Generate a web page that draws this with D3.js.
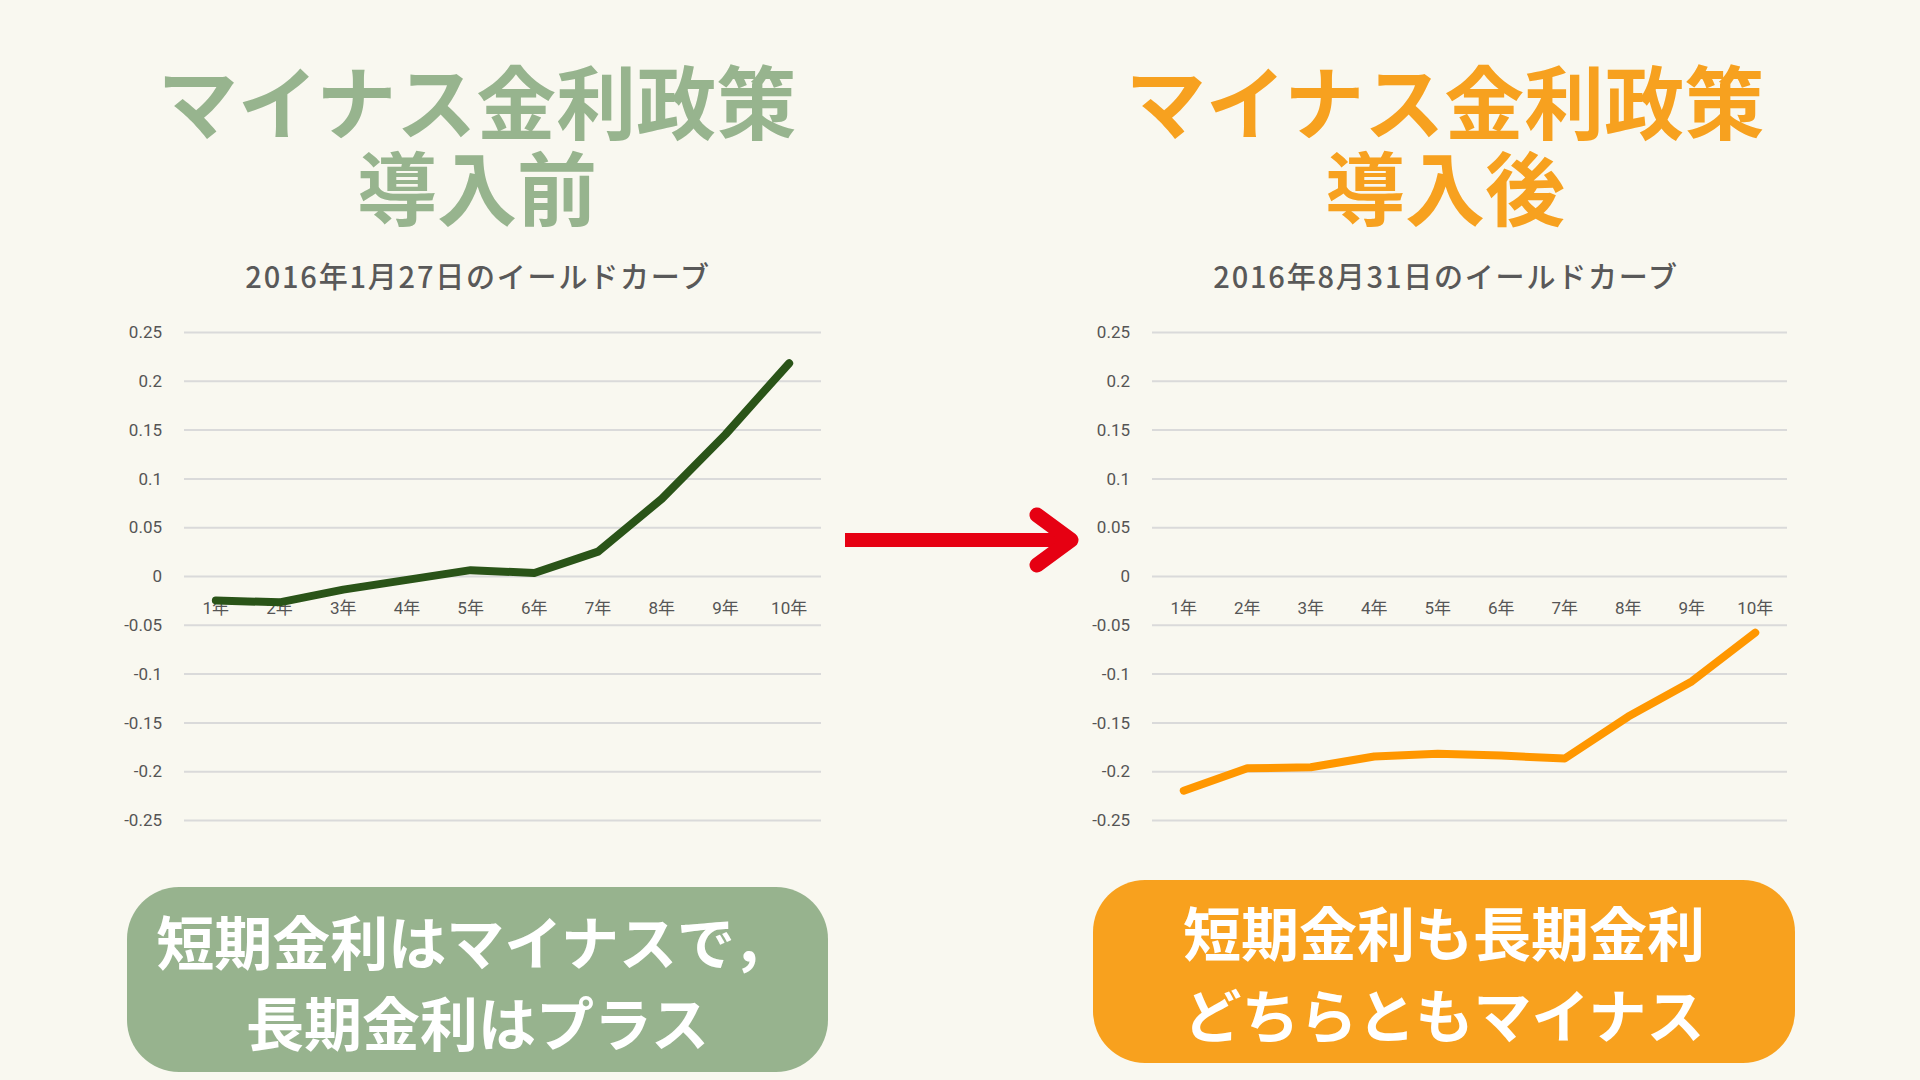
<!DOCTYPE html>
<html lang="ja">
<head>
<meta charset="utf-8">
<script src="https://cdn.jsdelivr.net/npm/d3@7"></script>
<style>
  html, body { margin: 0; padding: 0; background: #F9F8F0; }
  svg { display: block; }
</style>
</head>
<body>
<svg id="chart" width="1920" height="1080"></svg>
<script>
// ---- data ----
const categories = ["1年","2年","3年","4年","5年","6年","7年","8年","9年","10年"];
const beforeValues = [-0.025, -0.027, -0.014, -0.004, 0.006, 0.003, 0.025, 0.079, 0.145, 0.218];
const afterValues  = [-0.220, -0.197, -0.196, -0.185, -0.182, -0.184, -0.187, -0.144, -0.108, -0.058];
const yTickValues  = [0.25, 0.2, 0.15, 0.1, 0.05, 0, -0.05, -0.1, -0.15, -0.2, -0.25];
const yTickLabels  = ["0.25","0.2","0.15","0.1","0.05","0","-0.05","-0.1","-0.15","-0.2","-0.25"];
const beforeTitle = ["マイナス金利政策", "導入前"];
const afterTitle  = ["マイナス金利政策", "導入後"];
const beforeSubtitle = "2016年1月27日のイールドカーブ";
const afterSubtitle  = "2016年8月31日のイールドカーブ";
const beforeNote = ["短期金利はマイナスで，", "長期金利はプラス"];
const afterNote  = ["短期金利も長期金利", "どちらともマイナス"];

const svg = d3.select("#chart");
const JP = "'Noto Sans CJK JP', 'Noto Sans', sans-serif";
const NUM = "Roboto, 'Noto Sans CJK JP', sans-serif";

svg.append("rect").attr("width",1920).attr("height",1080).attr("fill","#F9F8F0");

function panel(cfg) {
  const g = svg.append("g");
  // title (one text, two lines)
  const title = g.append("text")
    .attr("text-anchor","middle").attr("dominant-baseline","central")
    .attr("font-family", JP).attr("font-weight", 700).attr("font-size", 80)
    .attr("fill", cfg.accent);
  cfg.title.forEach((t, i) => {
    title.append("tspan").attr("x", cfg.cx).attr("y", cfg.titleY[i]).text(t);
  });
  // subtitle
  g.append("text")
    .attr("x", cfg.cx + 1).attr("y", 275)
    .attr("text-anchor","middle").attr("dominant-baseline","central")
    .attr("font-family", JP).attr("font-weight", 500).attr("font-size", 29)
    .attr("letter-spacing", 1.8)
    .attr("fill", "#595959")
    .text(cfg.subtitle);

  const x = d3.scaleBand().domain(categories).range(cfg.xRange).paddingInner(0).paddingOuter(0);
  const y = d3.scaleLinear().domain([-0.25, 0.25]).range([820, 332]);

  // grid + y labels
  const yAxis = d3.axisLeft(y)
    .tickValues(yTickValues)
    .tickSize(-(cfg.xRange[1] - cfg.xRange[0]))
    .tickPadding(22)
    .tickFormat((d, i) => yTickLabels[i]);
  const ya = g.append("g").attr("transform", `translate(${cfg.xRange[0]},0)`).call(yAxis);
  ya.select(".domain").remove();
  ya.selectAll(".tick line").attr("stroke", "#DADADA").attr("stroke-width", 2);
  ya.selectAll(".tick text").attr("font-family", NUM).attr("font-size", 17)
    .attr("fill", "#555").attr("dy", "0.34em");

  // x labels (under zero line)
  const xAxis = d3.axisBottom(x).tickSize(0).tickPadding(26);
  const xa = g.append("g").attr("transform", `translate(0,${y(0)})`).call(xAxis);
  xa.select(".domain").remove();
  xa.selectAll(".tick text").attr("font-family", NUM).attr("font-size", 17).attr("fill", "#555");

  // line
  const line = d3.line()
    .x((d, i) => x(categories[i]) + x.bandwidth() / 2)
    .y(d => y(d));
  g.append("path").datum(cfg.values)
    .attr("d", line)
    .attr("fill", "none")
    .attr("stroke", cfg.lineColor)
    .attr("stroke-width", 8)
    .attr("stroke-linejoin", "round")
    .attr("stroke-linecap", "round");

  // note box
  g.append("rect")
    .attr("x", cfg.box[0]).attr("y", cfg.box[1]).attr("width", cfg.box[2]).attr("height", cfg.box[3])
    .attr("rx", 52).attr("ry", 52)
    .attr("fill", cfg.accentBox);
  const note = g.append("text")
    .attr("text-anchor","middle").attr("dominant-baseline","central")
    .attr("font-family", JP).attr("font-weight", 700).attr("font-size", 58)
    .attr("fill", "#FFFFFF");
  cfg.note.forEach((t, i) => {
    note.append("tspan")
      .attr("x", cfg.box[0] + cfg.box[2] / 2 + (cfg.noteDx ? cfg.noteDx[i] : 0))
      .attr("y", cfg.noteY[i])
      .text(t);
  });
}

panel({
  cx: 477, titleY: [98, 184], title: beforeTitle, subtitle: beforeSubtitle,
  accent: "#97B48E", accentBox: "#97B38E", lineColor: "#2A5418",
  xRange: [184, 821], values: beforeValues,
  box: [127, 887, 701, 185], note: beforeNote, noteY: [940, 1021], noteDx: [-4, 0]
});
panel({
  cx: 1445, titleY: [98, 184], title: afterTitle, subtitle: afterSubtitle,
  accent: "#F7A11F", accentBox: "#F8A11E", lineColor: "#FF9700",
  xRange: [1152, 1787], values: afterValues,
  box: [1093, 880, 702, 183], note: afterNote, noteY: [931, 1013]
});

// arrow
const arrow = svg.append("g").attr("stroke", "#E60012").attr("fill", "none");
arrow.append("line").attr("x1", 845).attr("y1", 540).attr("x2", 1066).attr("y2", 540)
  .attr("stroke-width", 14).attr("stroke-linecap", "butt");
arrow.append("path").attr("d", "M1037,515 L1071,540 L1037,565")
  .attr("stroke-width", 15).attr("stroke-linecap", "round").attr("stroke-linejoin", "round");
</script>
</body>
</html>
